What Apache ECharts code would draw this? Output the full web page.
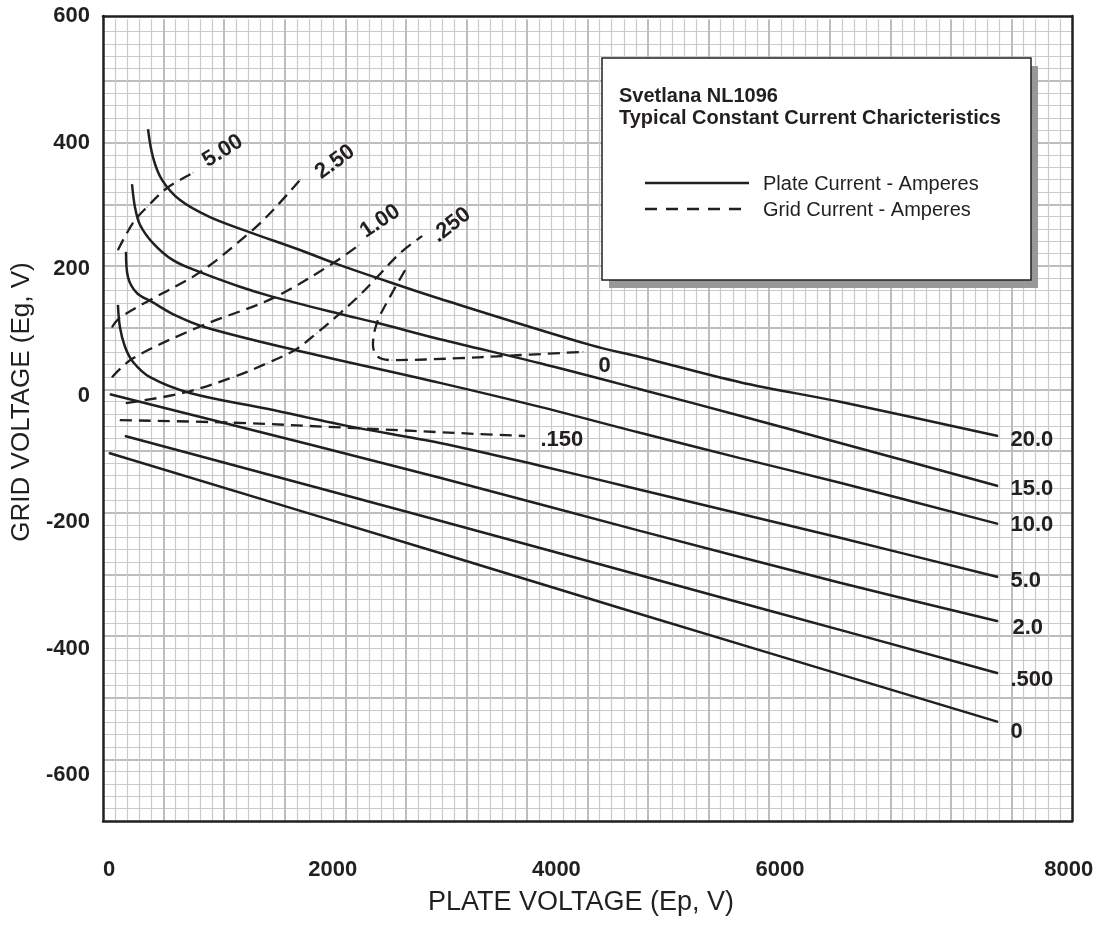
<!DOCTYPE html>
<html><head><meta charset="utf-8">
<script src="https://cdn.jsdelivr.net/npm/echarts@6/dist/echarts.min.js"></script>
<style>html,body{margin:0;padding:0;background:#fff}#c{width:1097px;height:926px}</style>
</head><body><div id="c"></div>
<script>
// Tick labels
const xTickValues = [0, 2000, 4000, 6000, 8000];
const yTickValues = [-600, -400, -200, 0, 200, 400, 600];

// Plate current curves, [plate voltage Ep, grid voltage Eg]
const plate20 = [[349,421],[393,377],[474,341],[635,309],[903,282],[1261,258],[1708,230],[2021,209],[2396,186],[2959,153],[4301,80],[4748,61],[5642,21],[6536,-10],[7948,-64]];
const plate15 = [[206,334],[232,298],[277,270],[393,241],[572,214],[814,195],[1171,172],[1466,156],[2065,129],[2396,115],[2959,89],[3854,51],[4748,10],[5642,-32],[6536,-75],[7948,-143]];
const plate10 = [[152,227],[170,187],[250,162],[384,148],[590,127],[858,108],[1663,72],[2959,20],[3854,-18],[4748,-59],[5642,-99],[6536,-138],[7948,-203]];
const plate5  = [[80,143],[98,108],[143,77],[215,53],[367,29],[724,4],[1413,-21],[2128,-48],[2959,-75],[3854,-111],[4748,-149],[5642,-187],[6536,-225],[7948,-287]];
const plate2  = [[9,2],[2959,-130],[4748,-214],[6536,-296],[7948,-357]];
const plate05 = [[143,-64],[2959,-198],[5883,-339],[7948,-439]];
const plate0  = [[0,-91],[2959,-249],[4569,-336],[7948,-516]];

// Grid current curves
const grid500 = [[80,230],[215,273],[340,298],[519,328],[751,352]];
const grid250 = [[27,108],[98,123],[367,151],[814,195],[1261,258],[1466,293],[1708,341]];
const grid100 = [[27,29],[215,59],[840,111],[1466,154],[2003,209],[2235,238]];
const grid025 = [[152,-12],[662,4],[1109,29],[1413,51],[1663,72],[1860,99],[2065,130],[2244,159],[2396,187],[2602,225],[2799,252]];
const grid0   = [[2647,198],[2512,156],[2396,115],[2360,80],[2405,61],[2530,56],[3138,59],[3469,62],[4238,69]];
const grid015 = [[98,-39],[1109,-43],[2128,-51],[3317,-61],[3719,-64]];

const FONT = "'Liberation Sans', Arial, Helvetica, sans-serif";
const INK = '#231f20';

function build(points, text, lab) {
  return points.map((p, i) => i < points.length - 1 ? p : {
    value: p,
    label: {
      show: true, formatter: text, position: 'right', distance: 0,
      offset: [lab.ox, lab.oy], rotate: lab.rot || 0,
      fontSize: 22, fontWeight: 'bold', color: INK, fontFamily: FONT
    }
  });
}
function lineSeries(name, points, text, lab, dashed) {
  return {
    name: name, type: 'line', xAxisIndex: 0, yAxisIndex: 0,
    data: build(points, text, lab),
    smooth: 0.35, symbol: 'circle', symbolSize: 1, showSymbol: true,
    lineStyle: { color: INK, width: dashed ? 2.3 : 2.5, type: dashed ? [12, 7] : 'solid' },
    itemStyle: { color: INK }, label: { show: false }, silent: true, z: 3
  };
}

const series = [
  lineSeries('20.0', plate20, '20.0', {ox: 12, oy: 4}, false),
  lineSeries('15.0', plate15, '15.0', {ox: 12, oy: 3}, false),
  lineSeries('10.0', plate10, '10.0', {ox: 12, oy: 1}, false),
  lineSeries('5.0', plate5, '5.0', {ox: 12, oy: 4}, false),
  lineSeries('2.0', plate2, '2.0', {ox: 14, oy: 7}, false),
  lineSeries('.500', plate05, '.500', {ox: 12, oy: 7}, false),
  lineSeries('0', plate0, '0', {ox: 12, oy: 10}, false),
  lineSeries('g5.00', grid500, '5.00', {ox: 15, oy: -3, rot: 32}, true),
  lineSeries('g2.50', grid250, '2.50', {ox: 17, oy: 6, rot: 36}, true),
  lineSeries('g1.00', grid100, '1.00', {ox: 9, oy: -8, rot: 34}, true),
  lineSeries('g.250', grid025, '.250', {ox: 8, oy: 9, rot: 38}, true),
  lineSeries('g0', grid0, '0', {ox: 15, oy: 14}, true),
  lineSeries('g.150', grid015, '.150', {ox: 15, oy: 4}, true)
];

const labelStyle = { fontSize: 22, fontWeight: 'bold', color: INK, fontFamily: FONT };
const borderLine = { show: true, onZero: false, lineStyle: { color: INK, width: 2.5 } };
const X_MIN = -53.6, X_MAX = 8610, Y_MIN = -672.7, Y_MAX = 600;

const paperSplit = {
  axisLine: { show: false }, axisTick: { show: false }, axisLabel: { show: false },
  splitLine: { show: true, showMinLine: false, showMaxLine: false, lineStyle: { color: '#bdbdc1', width: 2 } },
  minorTick: { show: false, splitNumber: 5 },
  minorSplitLine: { show: true, lineStyle: { color: '#cacacd', width: 1.2 } },
  z: 0
};

const option = {
  animation: false,
  backgroundColor: '#ffffff',
  grid: [
    { left: 103, right: 25, top: 16, bottom: 105, show: false, outerBoundsMode: 'none', containLabel: false },
    { left: 103, right: 25, top: 19.3, bottom: 105, show: false, outerBoundsMode: 'none', containLabel: false }
  ],
  xAxis: [
    {
      type: 'value', gridIndex: 0, position: 'bottom', min: X_MIN, max: X_MAX, z: 10,
      axisLine: borderLine, axisTick: { show: false }, splitLine: { show: false },
      axisLabel: Object.assign({
        customValues: xTickValues, margin: 38,
        formatter: v => v === 8000 ? '{far|8000}' : String(v),
        rich: { far: Object.assign({ padding: [0, 0, 0, 130] }, labelStyle) }
      }, labelStyle),
      name: 'PLATE VOLTAGE (Ep, V)', nameLocation: 'middle', nameGap: 68,
      nameTextStyle: { fontSize: 27, color: INK, fontFamily: FONT, padding: [0, 13, 0, 0] }
    },
    Object.assign({ type: 'value', gridIndex: 1, min: 0, max: 16, interval: 1 }, paperSplit),
    {
      type: 'value', gridIndex: 0, position: 'top', min: X_MIN, max: X_MAX, z: 10,
      axisLine: borderLine, axisTick: { show: false }, axisLabel: { show: false }, splitLine: { show: false }
    }
  ],
  yAxis: [
    {
      type: 'value', gridIndex: 0, position: 'left', min: Y_MIN, max: Y_MAX, z: 10,
      axisLine: borderLine, axisTick: { show: false }, splitLine: { show: false },
      axisLabel: Object.assign({ customValues: yTickValues, margin: 13, padding: [5, 0, 0, 0] }, labelStyle),
      name: 'GRID VOLTAGE (Eg, V)', nameLocation: 'middle', nameGap: 64,
      nameTextStyle: { fontSize: 26, color: INK, fontFamily: FONT, padding: [0, 0, 0, 33] }
    },
    Object.assign({ type: 'value', gridIndex: 1, min: 0, max: 13, interval: 1 }, paperSplit),
    {
      type: 'value', gridIndex: 0, position: 'right', min: Y_MIN, max: Y_MAX, z: 10,
      axisLine: borderLine, axisTick: { show: false }, axisLabel: { show: false }, splitLine: { show: false }
    }
  ],
  series: series,
  graphic: { elements: [
    { type: 'rect', z: 100, silent: true, shape: { x: 609, y: 66, width: 429, height: 222 }, style: { fill: '#98989b' } },
    { type: 'rect', z: 101, silent: true, shape: { x: 602, y: 58, width: 429, height: 222 }, style: { fill: '#ffffff', stroke: INK, lineWidth: 1.5 } },
    { type: 'text', z: 102, silent: true, x: 619, y: 96, style: { text: 'Svetlana NL1096', fontSize: 20, fontWeight: 'bold', fontFamily: FONT, fill: INK, verticalAlign: 'middle' } },
    { type: 'text', z: 102, silent: true, x: 619, y: 118, style: { text: 'Typical Constant Current Charicteristics', fontSize: 20, fontWeight: 'bold', fontFamily: FONT, fill: INK, verticalAlign: 'middle' } },
    { type: 'line', z: 102, silent: true, shape: { x1: 645, y1: 183, x2: 749, y2: 183 }, style: { stroke: INK, lineWidth: 2.5 } },
    { type: 'line', z: 102, silent: true, shape: { x1: 645, y1: 209, x2: 749, y2: 209 }, style: { stroke: INK, lineWidth: 2.5, lineDash: [12, 9] } },
    { type: 'text', z: 102, silent: true, x: 763, y: 184, style: { text: 'Plate Current - Amperes', fontSize: 20, fontFamily: FONT, fill: INK, verticalAlign: 'middle' } },
    { type: 'text', z: 102, silent: true, x: 763, y: 210, style: { text: 'Grid Current - Amperes', fontSize: 20, fontFamily: FONT, fill: INK, verticalAlign: 'middle' } }
  ]}
};

const chart = echarts.init(document.getElementById('c'), null, { renderer: 'canvas' });
chart.setOption(option);
</script>
</body></html>
